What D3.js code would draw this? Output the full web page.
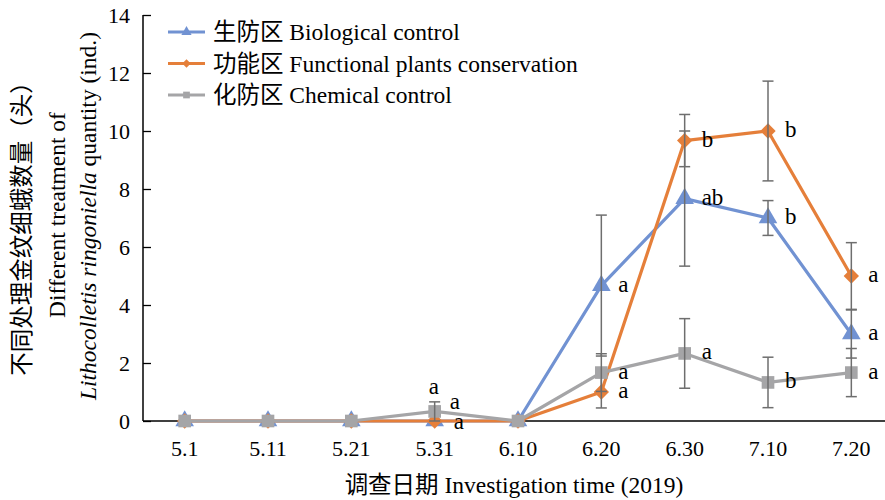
<!DOCTYPE html>
<html>
<head>
<meta charset="utf-8">
<script src="https://cdn.jsdelivr.net/npm/d3@7"></script>
<style>
	body { margin: 0; background: #fff; }
	svg text { font-family: "Liberation Serif", "Times New Roman", "Noto Sans CJK SC", serif; fill: #000; }
</style>
</head>
<body>
<svg id="chart" width="885" height="500"></svg>
<script>
// categories and values
const dates = ["5.1", "5.11", "5.21", "5.31", "6.10", "6.20", "6.30", "7.10", "7.20"];
const yTicks = [0, 2, 4, 6, 8, 10, 12, 14];

const bioValues = [0, 0, 0, 0, 0, 4.67, 7.67, 7.0, 3.0];
const bioErrors = [0, 0, 0, 0, 0, 2.43, 2.33, 0.6, 0.83];
const bioLetters = ["", "", "", "a", "", "a", "ab", "b", "a"];

const funcValues = [0, 0, 0, 0, 0, 1.0, 9.67, 10.0, 5.0];
const funcErrors = [0, 0, 0, 0, 0, 0.55, 0.9, 1.72, 1.15];
const funcLetters = ["", "", "", "a", "", "a", "b", "b", "a"];

const chemValues = [0, 0, 0, 0.33, 0, 1.67, 2.33, 1.33, 1.67];
const chemErrors = [0, 0, 0, 0.33, 0, 0.65, 1.2, 0.87, 0.83];
const chemLetters = ["", "", "", "a", "", "a", "a", "b", "a"];

const series = [
	{ name: "生防区 Biological control", values: bioValues, errors: bioErrors, letters: bioLetters, color: "#7192D2", symbol: d3.symbolTriangle },
	{ name: "功能区 Functional plants conservation", values: funcValues, errors: funcErrors, letters: funcLetters, color: "#E57F3A", symbol: d3.symbolDiamond2 },
	{ name: "化防区 Chemical control", values: chemValues, errors: chemErrors, letters: chemLetters, color: "#A5A5A7", symbol: d3.symbolSquare }
];

const svg = d3.select("#chart");
const mLeft = 143, mTop = 15, mBottom = 421, mRight = 893;

const x = d3.scaleBand().domain(dates).range([mLeft, mRight]);
const y = d3.scaleLinear().domain([0, 14]).range([mBottom, mTop]);
const cx = d => x(d) + x.bandwidth() / 2;

// y axis (inner ticks)
const yAxis = svg.append("g")
	.attr("transform", `translate(${mLeft},0)`)
	.call(d3.axisRight(y).tickValues(yTicks).tickSize(8).tickFormat(""));
yAxis.select(".domain").remove();
yAxis.selectAll("line").attr("stroke", "#000").attr("stroke-width", 1.3);
svg.append("line").attr("x1", mLeft).attr("x2", mLeft).attr("y1", mTop).attr("y2", mBottom)
	.attr("stroke", "#000").attr("stroke-width", 1.5);
svg.selectAll("text.ylab").data(yTicks).join("text")
	.attr("class", "ylab")
	.attr("x", 130).attr("y", d => y(d)).attr("dy", "0.36em")
	.attr("text-anchor", "end").style("font-size", "22px")
	.text(d => d);

// x axis
svg.append("line").attr("x1", mLeft).attr("x2", 885).attr("y1", mBottom).attr("y2", mBottom)
	.attr("stroke", "#000").attr("stroke-width", 1.5);
svg.selectAll("text.xlab").data(dates).join("text")
	.attr("class", "xlab")
	.attr("x", d => cx(d)).attr("y", 456)
	.attr("text-anchor", "middle").style("font-size", "22px")
	.text(d => d);

svg.append("text").attr("x", 514).attr("y", 493).attr("text-anchor", "middle")
	.style("font-size", "23.5px").text("调查日期 Investigation time (2019)");

// y title
const yt = svg.append("text").attr("transform", "translate(0,216) rotate(-90)")
	.attr("text-anchor", "middle").style("font-size", "23.5px");
yt.append("tspan").attr("x", -7).attr("y", 30).text("不同处理金纹细蛾数量（头）");
yt.append("tspan").attr("x", 1).attr("y", 65).text("Different treatment of");
const l3 = yt.append("tspan").attr("x", 0).attr("y", 96);
l3.append("tspan").style("font-style", "italic").text("Lithocolletis ringoniella");
l3.append("tspan").text(" quantity (ind.)");

// series
const line = d3.line().x((d, i) => cx(dates[i])).y(d => y(d));
series.forEach(s => {
	const g = svg.append("g");
	g.append("path").datum(s.values)
		.attr("d", line).attr("fill", "none")
		.attr("stroke", s.color).attr("stroke-width", 3.2).attr("stroke-linejoin", "round");
	g.selectAll("path.mk").data(s.values).join("path")
		.attr("class", "mk")
		.attr("transform", (d, i) => `translate(${cx(dates[i])},${y(d)})`)
		.attr("d", d3.symbol().type(s.symbol).size(s.symbol === d3.symbolSquare ? 160 : 150))
		.attr("fill", s.color);
	const eb = g.selectAll("g.eb").data(s.values.map((v, i) => ({ v, e: s.errors[i], i })).filter(d => d.e > 0))
		.join("g").attr("class", "eb").attr("stroke", "#6E6E6E").attr("stroke-width", 1.5);
	eb.append("line").attr("x1", d => cx(dates[d.i])).attr("x2", d => cx(dates[d.i]))
		.attr("y1", d => y(d.v + d.e)).attr("y2", d => y(Math.max(0, d.v - d.e)));
	[1, -1].forEach(sg => {
		eb.append("line").attr("x1", d => cx(dates[d.i]) - 5.5).attr("x2", d => cx(dates[d.i]) + 5.5)
			.attr("y1", d => y(d.v + sg * d.e)).attr("y2", d => y(d.v + sg * d.e));
	});
});

// significance letters (at 5.31 the three overlap, so they are spread out)
series.forEach((s, k) => {
	svg.selectAll(null).data(s.letters.map((t, i) => ({ t, i })).filter(d => d.t)).join("text")
		.attr("x", d => cx(dates[d.i]) + (d.i === 3 ? [-6, 19, 15][k] : 17))
		.attr("y", d => y(s.values[d.i]) + (d.i === 3 ? [-27, 8, -2][k] : 6))
		.style("font-size", "23px")
		.text(d => d.t);
});

// legend
const lg = svg.append("g").attr("transform", "translate(168,32)");
series.forEach((s, k) => {
	const row = lg.append("g").attr("transform", `translate(0,${k * 31.5})`);
	row.append("line").attr("x1", 0).attr("x2", 37).attr("stroke", s.color).attr("stroke-width", 3.2);
	row.append("path").attr("transform", "translate(18.5,0)")
		.attr("d", d3.symbol().type(s.symbol).size(45)).attr("fill", s.color);
	row.append("text").attr("x", 45).attr("dy", "0.35em").style("font-size", "23.5px").text(s.name);
});
</script>
</body>
</html>
